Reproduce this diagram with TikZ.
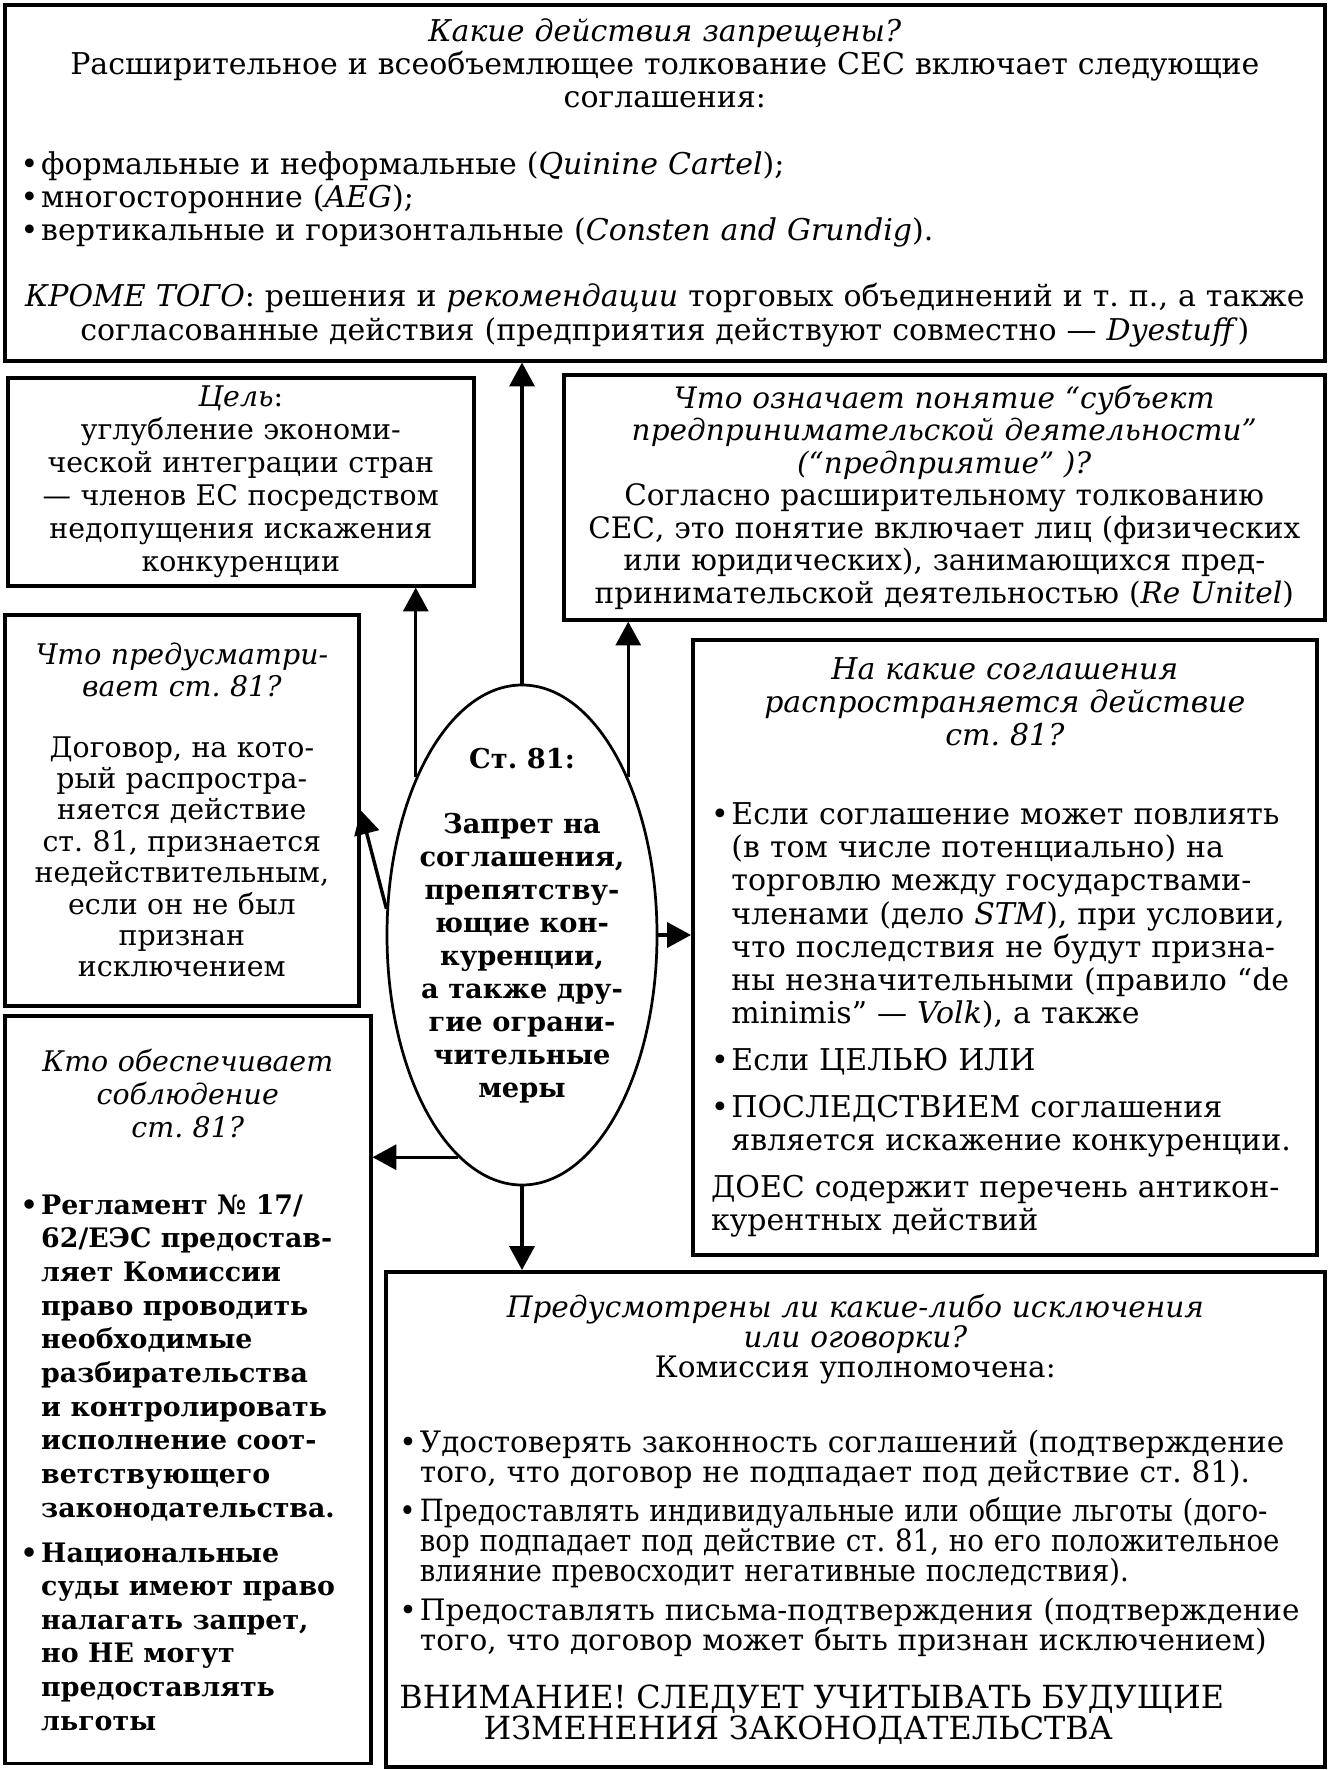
\documentclass[tikz,border=0pt]{standalone}
\usepackage{fontspec}
\setmainfont{DejaVu Serif}
\newfontfamily\condserif{DejaVu Serif Condensed}
\usetikzlibrary{arrows.meta,positioning,shapes.geometric,calc}
\setlength{\parindent}{0pt}

% bullet and hanging indent for the lists
\newcommand{\bl}{\makebox[9pt][l]{\textbullet}}
\newcommand{\hi}{\hspace*{9pt}}

\tikzset{
  infobox/.style={
    rectangle, draw=black, line width=1.6pt, anchor=north west,
    align=left, inner xsep=7pt, inner ysep=3pt,
    font=\fontsize{12.5}{14.6}\selectfont
  },
  artshape/.style={
    ellipse, draw=black, line width=1.2pt,
    minimum width=118.8pt, minimum height=220pt, inner sep=0pt
  },
  arttext/.style={
    align=center, font=\bfseries\fontsize{12}{14.5}\selectfont
  },
  linkarrow/.style={
    -{Triangle[length=10.5pt,width=11pt]}, line width=1.5pt
  },
}

\begin{document}
\begin{tikzpicture}[x=0.44pt,y=-0.44pt]
  \path[fill=white, use as bounding box] (0,0) rectangle (1329,1770);

  % top: forbidden actions
  \node[infobox, text width=566.8pt, minimum height=156.6pt,
        font=\fontsize{13.2}{14.6}\selectfont] (banned) at (3,3) {%
    {\centering\itshape Какие действия запрещены?\par}
    {\centering Расширительное и всеобъемлющее толкование СЕС включает следующие\\соглашения:\par}
    \vspace{14.6pt}
    \bl формальные и неформальные (\textit{Quinine Cartel});\\
    \bl многосторонние (\textit{AEG});\\
    \bl вертикальные и горизонтальные (\textit{Consten and Grundig}).\par
    \vspace{14.6pt}
    {\centering\textit{КРОМЕ ТОГО}: решения и \textit{рекомендации} торговых объединений и т.~п., а также\\согласованные действия (предприятия действуют совместно~— \textit{Dyestuff})\par}};

  % aim
  \node[infobox, align=center, text width=191pt, minimum height=91.5pt] (goal) at (6,376) {%
    \textit{Цель}:\\углубление экономи-\\ческой интеграции стран\\— членов ЕС посредством\\недопущения искажения\\конкуренции};

  % undertaking
  \node[infobox, align=center, text width=320.8pt, minimum height=107.8pt,
        font=\fontsize{13}{14.3}\selectfont] (subject) at (562,373) {%
    {\itshape Что означает понятие “субъект\\предпринимательской деятельности”\\(“предприятие” )?}\\
    Согласно расширительному толкованию\\СЕС, это понятие включает лиц (физических\\или юридических), занимающихся пред-\\принимательской деятельностью (\textit{Re Unitel})};

  % what art. 81 provides
  \node[infobox, align=center, text width=141.8pt, minimum height=172pt,
        font=\fontsize{12.5}{13.8}\selectfont] (provides) at (3,613) {%
    {\itshape Что предусматри-\\вает ст.~81?}\\[13pt]
    Договор, на кото-\\рый распростра-\\няется действие\\ст.~81, признается\\недействительным,\\если он не был\\признан\\исключением};

  % scope of art. 81
  \node[infobox, inner xsep=8pt, text width=258.6pt, minimum height=270.6pt,
        font=\fontsize{13.2}{14.6}\selectfont] (scope) at (691,638) {%
    {\centering\itshape На какие соглашения\\распространяется действие\\ст.~81?\par}
    \vspace{20pt}
    \bl Если соглашение может повлиять\\\hi(в том числе потенциально) на\\\hi торговлю между государствами-\\\hi\mbox{членами (дело \textit{STM}), при условии,}\\\hi что последствия не будут призна-\\\hi ны незначительными (правило “de\\\hi minimis”~— \textit{Volk}), а также\par
    \vspace{6pt}
    \bl Если ЦЕЛЬЮ ИЛИ\par
    \vspace{6pt}
    \bl ПОСЛЕДСТВИЕМ соглашения\\\hi\mbox{является искажение конкуренции.}\par
    \vspace{6pt}
    ДОЕС содержит перечень антикон-\\курентных действий};

  % enforcement
  \node[infobox, text width=147pt, minimum height=329pt] (enforce) at (3,1014) {%
    {\centering\itshape Кто обеспечивает\\соблюдение\\ст.~81?\par}
    \vspace{19pt}
    {\bfseries\fontsize{11.8}{14.8}\selectfont
    \bl Регламент №~17/\\\hi 62/ЕЭС предостав-\\\hi ляет Комиссии\\\hi право проводить\\\hi необходимые\\\hi разбирательства\\\hi и контролировать\\\hi исполнение соот-\\\hi ветствующего\\\hi законодательства.\par
    \vspace{5pt}
    \bl Национальные\\\hi суды имеют право\\\hi налагать запрет,\\\hi но НЕ могут\\\hi предоставлять\\\hi льготы\par}};

  % exemptions
  \node[infobox, inner xsep=6pt, text width=401.2pt, minimum height=217.8pt,
        font=\fontsize{13}{13.2}\selectfont] (excep) at (384,1270) {%
    {\centering\itshape Предусмотрены ли какие-либо исключения\\или оговорки?\\\upshape Комиссия уполномочена:\par}
    \vspace{20pt}
    \bl\mbox{Удостоверять законность соглашений (подтверждение}\\\hi того, что договор не подпадает под действие ст.~81).\par
    \vspace{4pt}
    {\condserif\fontsize{13.5}{13.2}\selectfont
    \bl\mbox{Предоставлять индивидуальные или общие льготы (дого-}\\\hi\mbox{вор подпадает под действие ст.~81, но его положительное}\\\hi влияние превосходит негативные последствия).\par}
    \vspace{4pt}
    \bl\mbox{Предоставлять письма-подтверждения (подтверждение}\\\hi\mbox{того, что договор может быть признан исключением)}\par
    \vspace{12pt}
    {\fontsize{14}{13.6}\selectfont
    ВНИМАНИЕ! СЛЕДУЕТ УЧИТЫВАТЬ БУДУЩИЕ\\\hspace*{37pt}ИЗМЕНЕНИЯ ЗАКОНОДАТЕЛЬСТВА\par}};

  % article 81
  \node[artshape] (art) at (522,935) {};
  \node[arttext, yshift=4pt] (artlabel) at (art) {%
    Ст.~81:\\[14pt]Запрет на\\соглашения,\\препятству-\\ющие кон-\\куренции,\\а также дру-\\гие ограни-\\чительные\\меры};

  \draw[linkarrow] (art.north) -- (art.north |- banned.south);
  \draw[linkarrow] (art.124) -- (art.124 |- goal.south);
  \draw[linkarrow] (art.56) -- (art.56 |- subject.south);
  \draw[linkarrow] (art.169) -- (provides.east);
  \draw[linkarrow] (art.east) -- (art.east -| scope.west);
  \draw[linkarrow] (art.254) -- (art.254 -| enforce.east);
  \draw[linkarrow] (art.south) -- (art.south |- excep.north);
\end{tikzpicture}
\end{document}
